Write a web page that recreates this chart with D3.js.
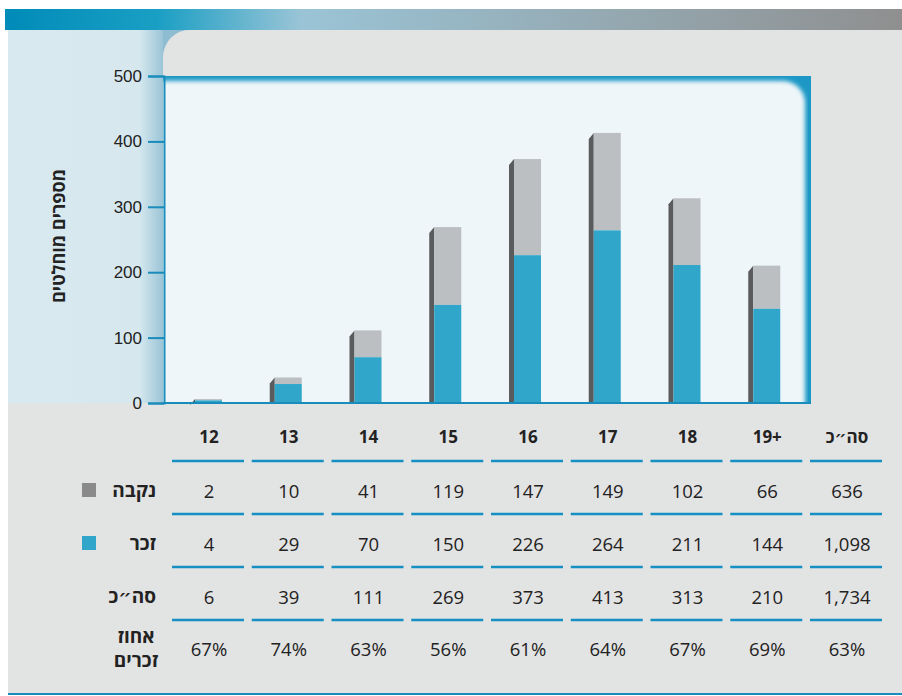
<!DOCTYPE html>
<meta charset="utf-8">
<style>
body { margin: 0; background: #fff; }
svg { font-family: "Open Sans", "DejaVu Sans", sans-serif; display: block; }
.tick text { font-size: 17px; fill: #222; }
</style>
<body>
<div id="chart"></div>
<script src="https://cdn.jsdelivr.net/npm/d3@7"></script>
<script>
var width = 902, height = 696;

// data
var ages = ['12', '13', '14', '15', '16', '17', '18', '19+'];
var female = [2, 10, 41, 119, 147, 149, 102, 66];
var male = [4, 29, 70, 150, 226, 264, 211, 144];
var totals = [6, 39, 111, 269, 373, 413, 313, 210];
var malePct = ['67%', '74%', '63%', '56%', '61%', '64%', '67%', '69%'];
var sumLabel = 'סה״כ';
var sumFemale = '636', sumMale = '1,098', sumAll = '1,734', sumPct = '63%';
var yTicks = [0, 100, 200, 300, 400, 500];

var svg = d3.select('#chart').append('svg')
    .attr('width', width)
    .attr('height', height);

var defs = svg.append('defs');

var band = defs.append('linearGradient').attr('id', 'band');
band.append('stop').attr('offset', '0').attr('stop-color', '#008bb8');
band.append('stop').attr('offset', '0.17').attr('stop-color', '#1a9fc4');
band.append('stop').attr('offset', '0.33').attr('stop-color', '#9ac4d6');
band.append('stop').attr('offset', '1').attr('stop-color', '#8f8f8f');

var side = defs.append('linearGradient').attr('id', 'leftPanel');
side.append('stop').attr('offset', '0').attr('stop-color', '#d8eaef');
side.append('stop').attr('offset', '0.82').attr('stop-color', '#d6e8ee');
side.append('stop').attr('offset', '1').attr('stop-color', '#8ebdd2');

// soft edge for the inner panel
defs.append('filter').attr('id', 'soft')
    .attr('x', '-5%').attr('y', '-5%').attr('width', '110%').attr('height', '110%')
  .append('feGaussianBlur').attr('stdDeviation', 2.2);
defs.append('clipPath').attr('id', 'plotClip')
  .append('rect').attr('x', 163).attr('y', 77).attr('width', 645).attr('height', 326);

// frame
svg.append('rect').attr('x', 5).attr('y', 9).attr('width', width - 5).attr('height', 21)
    .attr('fill', 'url(#band)');
svg.append('rect').attr('x', 8).attr('y', 30).attr('width', width - 8).attr('height', 664)
    .attr('fill', '#e2e3e3');
svg.append('rect').attr('x', 8).attr('y', 30).attr('width', 160).attr('height', 373)
    .attr('fill', 'url(#leftPanel)');
svg.append('path')
    .attr('d', 'M163,30 L190,30 A27,27 0 0 0 163,57 Z')
    .attr('fill', '#8ebdd2');
svg.append('path')
    .attr('d', 'M163,76 L163,57 A27,27 0 0 1 190,30 L190,76 Z')
    .attr('fill', '#e2e3e3');
svg.append('line').attr('x1', 8).attr('x2', width).attr('y1', 694).attr('y2', 694)
    .attr('stroke', '#1a8cbc').attr('stroke-width', 2);

var y = d3.scaleLinear().domain([0, 500]).range([403, 76]);
var cols = ages.concat([sumLabel]);
var x = d3.scalePoint().domain(cols).range([209, 847]);

// plot panel
svg.append('rect').attr('x', 163).attr('y', 76).attr('width', 648).attr('height', 327)
    .attr('fill', '#1d98c6');
svg.append('g').attr('clip-path', 'url(#plotClip)')
  .append('rect')
    .attr('x', 140).attr('y', 81).attr('width', 665).attr('height', 350)
    .attr('rx', 22)
    .attr('fill', '#eef6f9')
    .attr('filter', 'url(#soft)');

// bars
var bars = svg.append('g').selectAll('g')
    .data(ages.map(function(a, i) { return {age: a, f: female[i], m: male[i]}; }))
    .enter().append('g');

bars.append('path')
    .attr('d', function(d) {
        var l = x(d.age) - 14, t = y(d.f + d.m);
        return 'M' + (l - 5) + ',403 L' + (l - 5) + ',' + (t + 6) + ' L' + l + ',' + t +
            ' L' + l + ',403 Z';
    })
    .attr('fill', '#5a5b5c');
bars.append('rect')
    .attr('x', function(d) { return x(d.age) - 14; })
    .attr('width', 27)
    .attr('y', function(d) { return y(d.f + d.m); })
    .attr('height', function(d) { return y(d.m) - y(d.f + d.m); })
    .attr('fill', '#bcbfc1');
bars.append('rect')
    .attr('x', function(d) { return x(d.age) - 14; })
    .attr('width', 27)
    .attr('y', function(d) { return y(d.m); })
    .attr('height', function(d) { return 403 - y(d.m); })
    .attr('fill', '#2fa6ca');

// axes
svg.append('line').attr('x1', 163).attr('x2', 811).attr('y1', 403).attr('y2', 403)
    .attr('stroke', '#1a8cbc').attr('stroke-width', 2);

var yAxis = svg.append('g')
    .attr('transform', 'translate(164,0)')
    .call(d3.axisLeft(y).tickValues(yTicks).tickSize(16).tickPadding(6));
yAxis.selectAll('line').attr('stroke', '#1a8cbc').attr('stroke-width', 2);
yAxis.select('.domain').attr('stroke', '#1a8cbc').attr('stroke-width', 2);

svg.append('text')
    .attr('transform', 'translate(58,236) rotate(-90)')
    .attr('text-anchor', 'middle')
    .attr('dominant-baseline', 'central')
    .attr('font-size', 18)
    .attr('font-weight', 'bold')
    .attr('fill', '#222')
    .text('מספרים מוחלטים');

// table
var rowY = [436, 490, 543, 596, 648];
var lineY = [461, 514, 567, 620];
var rows = [
    cols,
    female.map(String).concat([sumFemale]),
    male.map(String).concat([sumMale]),
    totals.map(String).concat([sumAll]),
    malePct.concat([sumPct])
];

var table = svg.append('g');
rows.forEach(function(r, ri) {
    table.selectAll(null).data(r).enter().append('text')
        .attr('x', function(d, i) { return x(cols[i]); })
        .attr('y', rowY[ri])
        .attr('text-anchor', 'middle')
        .attr('dominant-baseline', 'central')
        .attr('font-size', ri === 0 ? 17 : 18.5)
        .attr('font-weight', ri === 0 ? 'bold' : 'normal')
        .attr('fill', '#222')
        .text(function(d) { return d; });
});
lineY.forEach(function(ly) {
    table.selectAll(null).data(cols).enter().append('line')
        .attr('x1', function(d) { return x(d) - 37; })
        .attr('x2', function(d) { return x(d) + 35; })
        .attr('y1', ly).attr('y2', ly)
        .attr('stroke', '#168fc2').attr('stroke-width', 2.5);
});

var rowLabels = [
    {t: 'נקבה', y: 490, sw: '#8a8a8a'},
    {t: 'זכר', y: 543, sw: '#2fa6ca'},
    {t: sumLabel, y: 596},
    {t: 'אחוז', y: 636},
    {t: 'זכרים', y: 660}
];
rowLabels.forEach(function(d, i) {
    svg.append('text')
        .attr('x', i < 3 ? 156 : 136)
        .attr('y', d.y)
        .attr('text-anchor', i < 3 ? 'end' : 'middle')
        .attr('dominant-baseline', 'central')
        .attr('font-size', 19)
        .attr('font-weight', 'bold')
        .attr('fill', '#222')
        .text(d.t);
    if (d.sw) {
        svg.append('rect').attr('x', 82).attr('y', d.y - 7).attr('width', 14).attr('height', 14)
            .attr('fill', d.sw);
    }
});
</script>
</body>
